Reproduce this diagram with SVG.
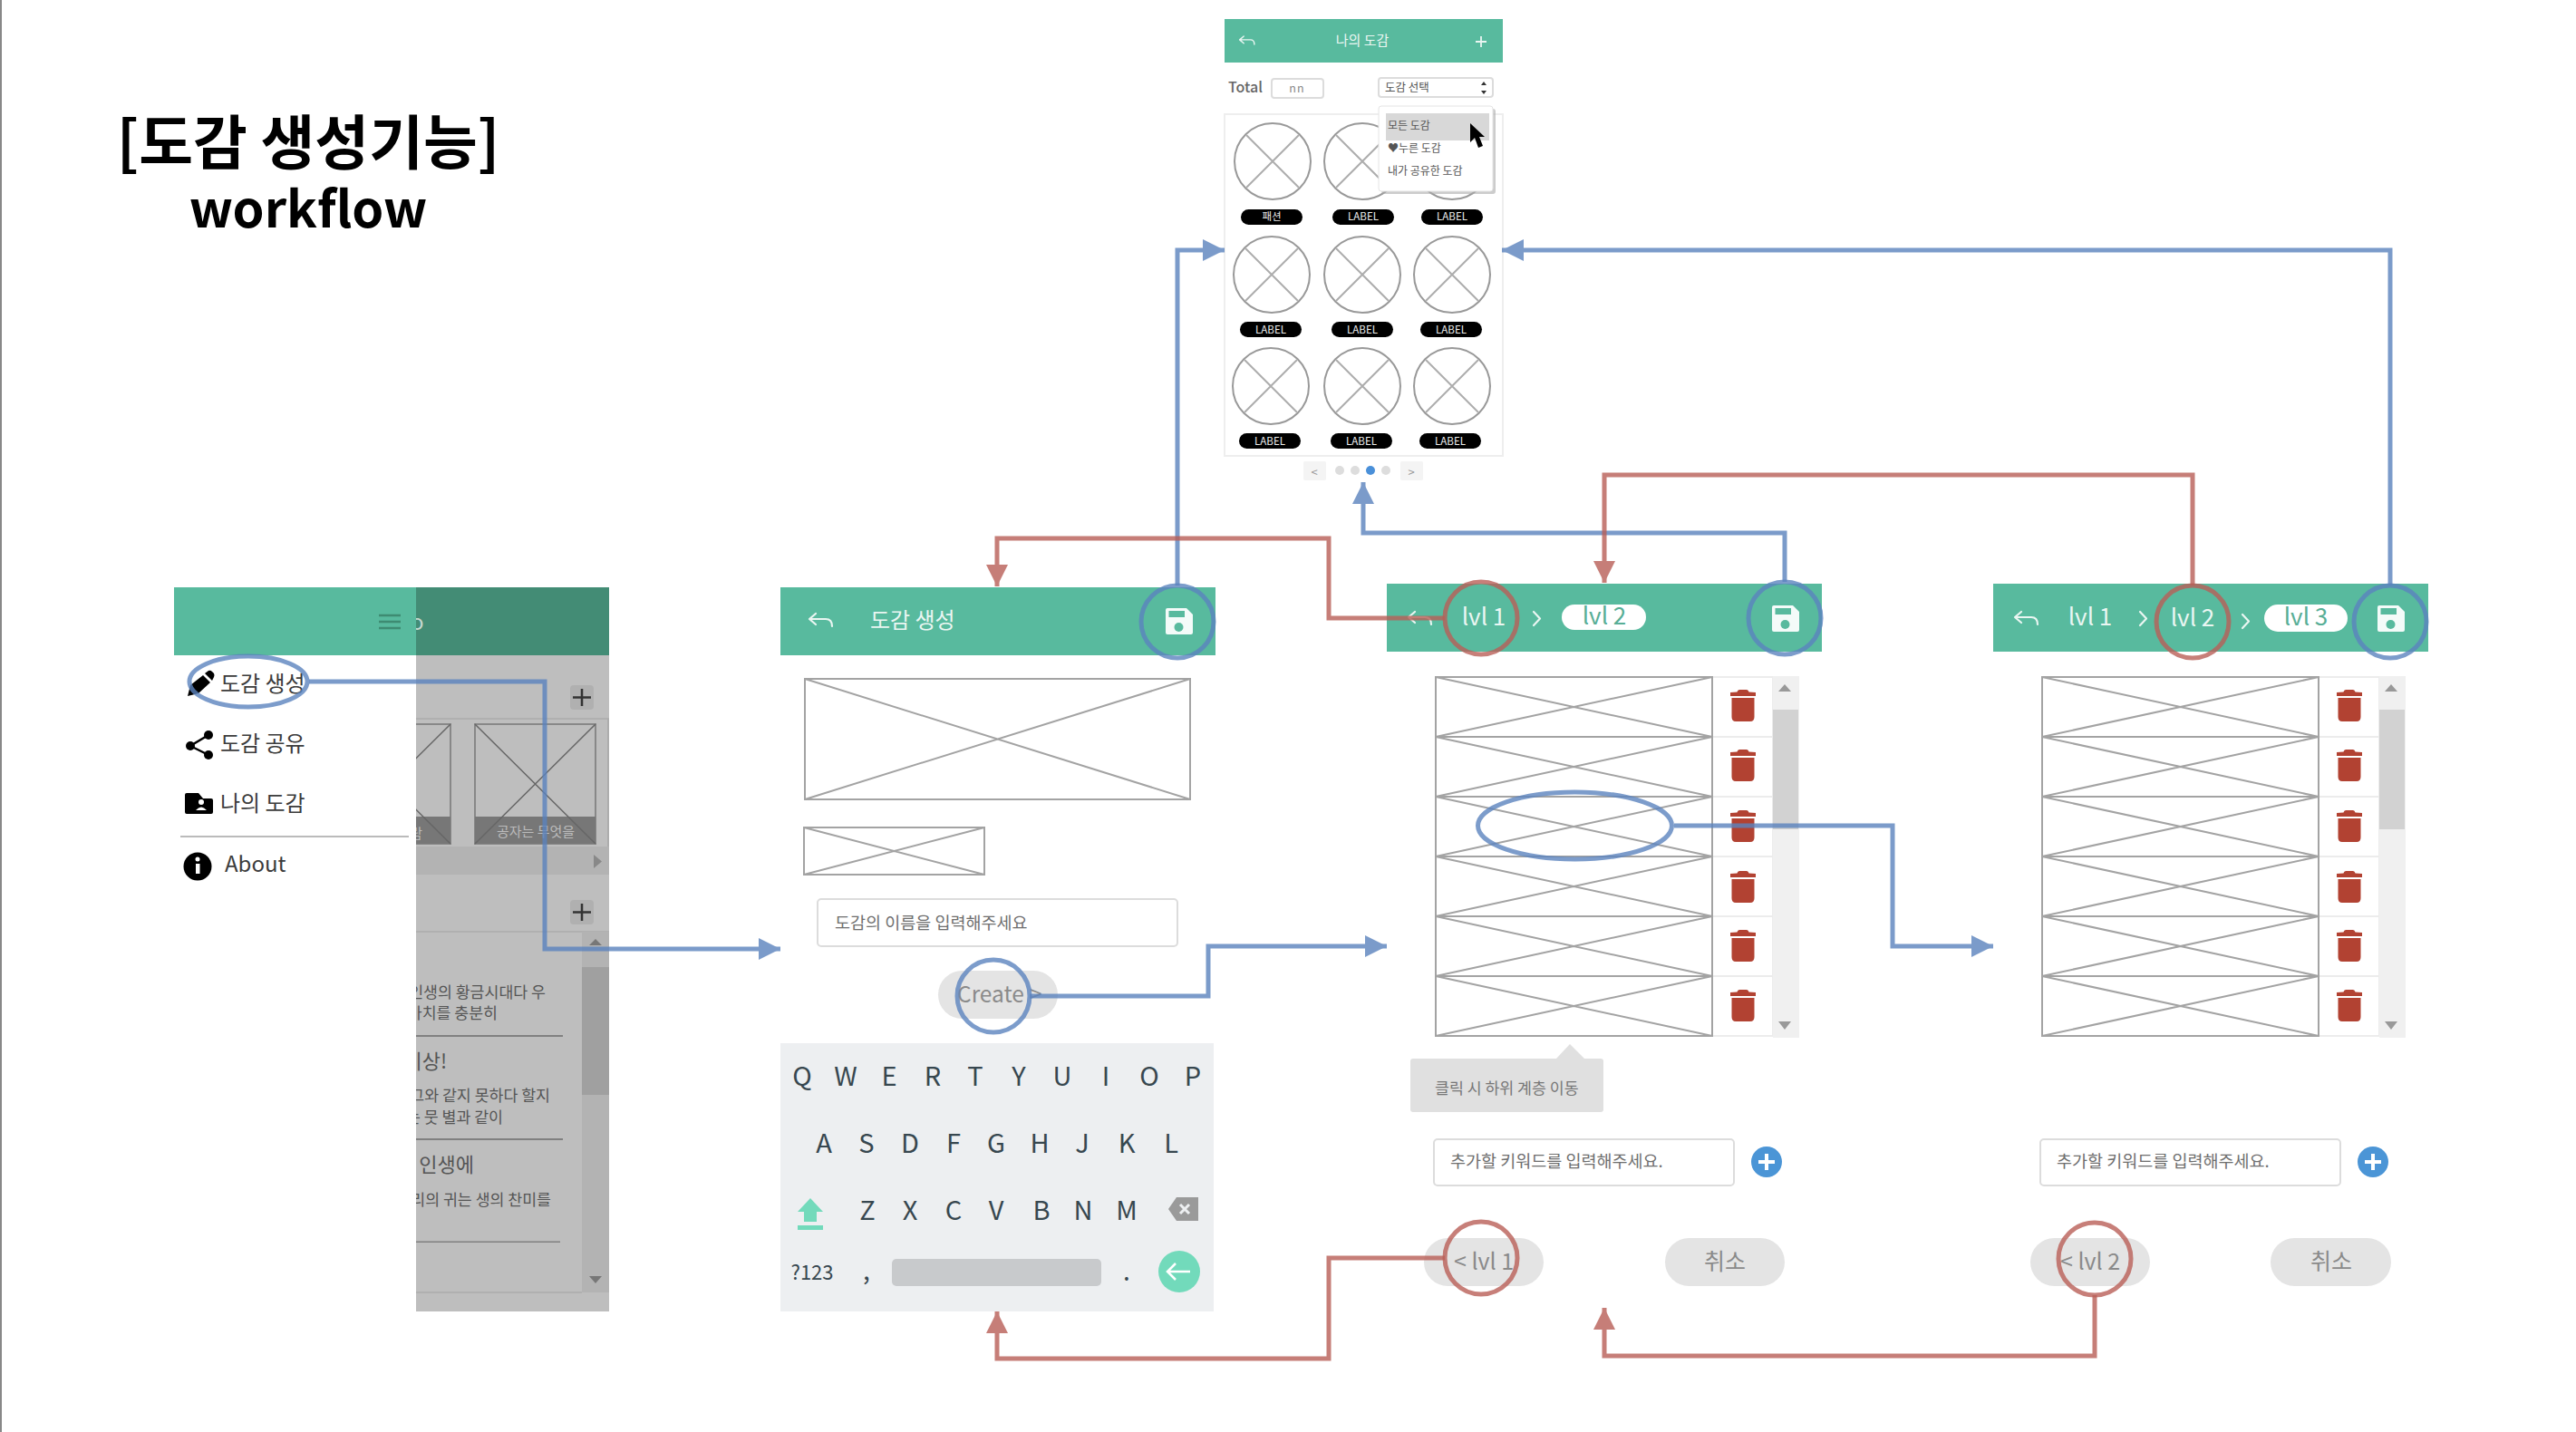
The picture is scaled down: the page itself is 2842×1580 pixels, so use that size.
<svg xmlns="http://www.w3.org/2000/svg" xmlns:xlink="http://www.w3.org/1999/xlink" width="2842" height="1580" viewBox="0 0 2842 1580">
<style>
text{font-family:"Noto Sans CJK KR","Noto Sans",sans-serif}
.hdr{fill:#58BA9E}
.wire{fill:#fff;stroke:#A3A3A3;stroke-width:2}
.x{stroke:#A3A3A3;stroke-width:2;fill:none}
.menu{font-size:24px;fill:#3c3c3c}
.white{fill:#EAF6F2}
.teal{fill:#58AE96}
.ph{font-size:18.5px;fill:#6f6f6f}
.in{fill:#fff;stroke:#dcdcdc;stroke-width:2}
.btn{fill:#E4E4E4}
.btxt{font-size:25px;fill:#8a8a8a;text-anchor:middle}
.lvl{font-size:26px;text-anchor:middle}
.kb{font-size:29px;fill:#37474F;text-anchor:middle}
.dim{font-size:17.3px;fill:#555;text-anchor:end}
.dimh{font-size:22px;fill:#555}
.lbl{font-size:11.5px;fill:#eee;text-anchor:middle}
.pill{fill:#000}
.dd{font-size:12px;fill:#555}
.cell{fill:#fff;stroke:#ececec;stroke-width:2}
.blue{fill:none;stroke:#5B83BE;stroke-width:5;opacity:.8}
.red{fill:none;stroke:#B95F57;stroke-width:5;opacity:.8}
.bk{fill:none;stroke:#EAF6F2;stroke-width:2.2;stroke-linecap:round;stroke-linejoin:round}
</style>
<defs>
<marker id="ab" markerUnits="userSpaceOnUse" viewBox="0 0 24 24" refX="24" refY="12" markerWidth="24" markerHeight="24" orient="auto"><path d="M0 0L24 12L0 24Z" fill="#5B83BE"/></marker>
<marker id="ar" markerUnits="userSpaceOnUse" viewBox="0 0 24 24" refX="24" refY="12" markerWidth="24" markerHeight="24" orient="auto"><path d="M0 0L24 12L0 24Z" fill="#B95F57"/></marker>
<clipPath id="ov"><rect x="459" y="640" width="213" height="810"/></clipPath>
<g id="back"><path class="bk" d="M8 0L1 6L8 12M1 6H19Q26 6 26 14"/></g>
<g id="save"><path fill="#F4FBF9" d="M2 0H23L30 7V27Q30 29 28 29H2Q0 29 0 27V2Q0 0 2 0Z"/><rect x="3.5" y="3" width="17.5" height="7" fill="#58BA9E"/><circle cx="14.5" cy="21" r="5" fill="#58BA9E"/></g>
<g id="trash"><path fill="#B24232" d="M10 0H18Q20 0 20.500 2.500L28 3V7H0V3L7.500 2.500Q8 0 10 0ZM1.500 9H26.500V30Q26.500 35 22 35H6Q1.500 35 1.500 30Z"/></g>
<g id="row"><rect class="wire" width="305" height="66"/><path class="x" d="M0 0L305 66M305 0L0 66"/></g>
<g id="disc"><circle r="42" fill="#fff" stroke="#999" stroke-width="2"/><path stroke="#ADADAD" stroke-width="2" d="M-29 -29L29 29M29 -29L-29 29"/></g>
<g id="list">
<rect x="305" width="67" height="396" fill="#fff"/>
<rect class="cell" x="305" y="0" width="67" height="66"/><rect class="cell" x="305" y="66" width="67" height="66"/><rect class="cell" x="305" y="132" width="67" height="66"/><rect class="cell" x="305" y="198" width="67" height="66"/><rect class="cell" x="305" y="264" width="67" height="66"/><rect class="cell" x="305" y="330" width="67" height="66"/>
<use xlink:href="#row" href="#row" y="0"/><use xlink:href="#row" href="#row" y="66"/><use xlink:href="#row" href="#row" y="132"/><use xlink:href="#row" href="#row" y="198"/><use xlink:href="#row" href="#row" y="264"/><use xlink:href="#row" href="#row" y="330"/>
<use xlink:href="#trash" href="#trash" x="325" y="14"/><use xlink:href="#trash" href="#trash" x="325" y="80"/><use xlink:href="#trash" href="#trash" x="325" y="147"/><use xlink:href="#trash" href="#trash" x="325" y="214"/><use xlink:href="#trash" href="#trash" x="325" y="279"/><use xlink:href="#trash" href="#trash" x="325" y="345"/>
<rect x="372" y="-1" width="29" height="399" fill="#F0F0F0"/><rect x="372" y="36" width="28" height="132" fill="#D2D2D2"/>
<path fill="#999" d="M378 16L385 8L392 16ZM378 380H392L385 389Z"/>
</g>
<g id="plusc"><circle r="17" fill="#4B95D6"/><path d="M-9 0H9M0 -9V9" stroke="#fff" stroke-width="4"/></g>
</defs>
<rect width="2842" height="1580" fill="#fff"/>
<rect width="2" height="1580" fill="#888"/>
<g id="title">
<text x="340" y="181" font-size="65" font-weight="700" fill="#000" text-anchor="middle">[도감 생성기능]</text>
<text x="340" y="251" font-size="56" font-weight="700" fill="#000" text-anchor="middle">workflow</text>
</g>
<g id="screen-my-collection">
<rect class="hdr" x="1351" y="21" width="307" height="48"/>
<use xlink:href="#back" href="#back" transform="translate(1367 40) scale(.65)"/>
<text class="white" x="1503" y="50" font-size="15" text-anchor="middle">나의 도감</text>
<path d="M1634 40V52M1628 46H1640" stroke="#EAF6F2" stroke-width="1.800"/>
<text x="1355" y="102" font-size="16" font-weight="500" fill="#666">Total</text>
<rect class="in" x="1403" y="87" width="57" height="21" rx="3"/>
<text x="1431" y="102" font-size="12.500" fill="#888" text-anchor="middle" letter-spacing="1">nn</text>
<rect class="in" x="1521" y="86" width="126" height="21" rx="3"/>
<text x="1528" y="101" font-size="12.500" fill="#555">도감 선택</text>
<path fill="#333" d="M1634 94L1637 90L1640 94ZM1634 100H1640L1637 104Z"/>
<rect x="1351" y="126" width="307" height="377" fill="#fff" stroke="#eee" stroke-width="2"/>
<use xlink:href="#disc" href="#disc" x="1404" y="178"/><use xlink:href="#disc" href="#disc" x="1503" y="178"/><use xlink:href="#disc" href="#disc" x="1602" y="178"/>
<use xlink:href="#disc" href="#disc" x="1403" y="303"/><use xlink:href="#disc" href="#disc" x="1503" y="303"/><use xlink:href="#disc" href="#disc" x="1602" y="303"/>
<use xlink:href="#disc" href="#disc" x="1402" y="426"/><use xlink:href="#disc" href="#disc" x="1503" y="426"/><use xlink:href="#disc" href="#disc" x="1602" y="426"/>
<rect class="pill" x="1369" y="231" width="68" height="17" rx="8.500"/><rect class="pill" x="1470" y="231" width="68" height="17" rx="8.500"/><rect class="pill" x="1568" y="231" width="68" height="17" rx="8.500"/>
<rect class="pill" x="1368" y="355" width="68" height="17" rx="8.500"/><rect class="pill" x="1469" y="355" width="68" height="17" rx="8.500"/><rect class="pill" x="1567" y="355" width="68" height="17" rx="8.500"/>
<rect class="pill" x="1367" y="478" width="68" height="17" rx="8.500"/><rect class="pill" x="1468" y="478" width="68" height="17" rx="8.500"/><rect class="pill" x="1566" y="478" width="68" height="17" rx="8.500"/>
<text class="lbl" x="1403" y="243">패션</text><text class="lbl" x="1504" y="243">LABEL</text><text class="lbl" x="1602" y="243">LABEL</text>
<text class="lbl" x="1402" y="368">LABEL</text><text class="lbl" x="1503" y="368">LABEL</text><text class="lbl" x="1601" y="368">LABEL</text>
<text class="lbl" x="1401" y="491">LABEL</text><text class="lbl" x="1502" y="491">LABEL</text><text class="lbl" x="1600" y="491">LABEL</text>
<rect x="1524" y="120" width="126" height="94" rx="3" fill="#aaa" opacity=".6"/>
<rect x="1521" y="117" width="126" height="94" rx="3" fill="#fff" stroke="#e4e4e4"/>
<rect x="1529" y="125" width="114" height="30" fill="#D8D8D8"/>
<text class="dd" x="1531" y="143">모든 도감</text><text class="dd" x="1531" y="168">♥누른 도감</text><text class="dd" x="1531" y="193">내가 공유한 도감</text>
<path fill="#000" d="M1622 136V157L1627 152L1631 163L1636 161L1632 151H1638Z"/>
<rect x="1438" y="509" width="25" height="21" rx="2" fill="#F4F4F4"/><rect x="1545" y="509" width="25" height="21" rx="2" fill="#F4F4F4"/>
<text x="1450" y="526" font-size="13" fill="#999" text-anchor="middle">&lt;</text><text x="1557" y="526" font-size="13" fill="#999" text-anchor="middle">&gt;</text>
<circle cx="1478" cy="519" r="5" fill="#DDD"/><circle cx="1495" cy="519" r="5" fill="#DDD"/><circle cx="1512" cy="519" r="5" fill="#4A90D9"/><circle cx="1529" cy="519" r="5" fill="#DDD"/>
</g>
<g id="screen-menu">
<rect x="192" y="648" width="267" height="75" class="hdr"/>
<rect x="459" y="648" width="213" height="75" fill="#438C75"/>
<rect x="459" y="723" width="213" height="724" fill="#BEBEBE"/>
<text x="453" y="695" font-size="24" fill="#c6d8d1" clip-path="url(#ov)">o</text>
<path d="M418 679H442M418 686H442M418 693H442" stroke="#3E8B72" stroke-width="2.500"/>
<path d="M207 768L210 756L224 745L232 753L219 765Z" fill="#000"/><path d="M226 743L230 740Q232 739 234 741L236 743Q237 745 236 747L234 751Z" fill="#000"/>
<text class="menu" x="243" y="763">도감 생성</text>
<g fill="#000"><circle cx="230" cy="811" r="5"/><circle cx="210" cy="823" r="5"/><circle cx="230" cy="833" r="5"/></g><path d="M230 811L210 823L230 833" fill="none" stroke="#000" stroke-width="2.500"/>
<text class="menu" x="243" y="829">도감 공유</text>
<path fill="#000" d="M206 875H219L224 881H233Q235 881 235 883V896Q235 898 233 898H206Q204 898 204 896V877Q204 875 206 875Z"/><circle cx="222" cy="885" r="3" fill="#fff"/><path d="M216 894Q222 887 228 894Z" fill="#fff"/>
<text class="menu" x="243" y="895">나의 도감</text>
<rect x="199" y="922" width="252" height="2" fill="#BBB"/>
<circle cx="218" cy="956" r="15.500" fill="#000"/><rect x="216" y="953" width="4.500" height="11" fill="#fff"/><circle cx="218" cy="948" r="2.500" fill="#fff"/>
<text class="menu" x="248" y="962">About</text>
<rect x="629" y="756" width="26" height="27" rx="4" fill="#B0B0B0"/><path d="M642 760V779M632 769.500H652" stroke="#333" stroke-width="2.500"/>
<rect x="459" y="792" width="213" height="2" fill="#B0B0B0"/><rect x="670" y="793" width="2" height="142" fill="#ADADAD"/>
<g clip-path="url(#ov)">
<rect x="364" y="799" width="133" height="132" fill="none" stroke="#888" stroke-width="2"/>
<rect x="364" y="901" width="133" height="30" fill="#777"/>
<path d="M364 799L497 931M497 799L364 931" stroke="#666" stroke-width="1.500"/>
<text x="466" y="925" font-size="15" fill="#bbb" text-anchor="end">람</text>
</g>
<rect x="524" y="799" width="133" height="132" fill="none" stroke="#888" stroke-width="2"/>
<rect x="524" y="901" width="133" height="30" fill="#777"/>
<path d="M524 799L657 931M657 799L524 931" stroke="#666" stroke-width="1.500"/>
<text x="591" y="923" font-size="15" fill="#bbb" text-anchor="middle">공자는 무엇을</text>
<rect x="459" y="934" width="213" height="31" fill="#B3B3B3"/><path d="M655 943L664 950.500L655 958Z" fill="#888"/>
<rect x="629" y="993" width="26" height="27" rx="4" fill="#B0B0B0"/><path d="M642 997V1016M632 1006.500H652" stroke="#333" stroke-width="2.500"/>
<rect x="459" y="1027" width="213" height="2" fill="#B0B0B0"/>
<rect x="642" y="1028" width="30" height="398" fill="#B3B3B3"/><rect x="642" y="1067" width="30" height="141" fill="#A0A0A0"/>
<path d="M650 1043L657 1036L664 1043ZM650 1408H664L657 1416Z" fill="#777"/>
<rect x="459" y="1425" width="183" height="2" fill="#B0B0B0"/>
<g clip-path="url(#ov)">
<text class="dim" x="602" y="1101">인생의 황금시대다 우</text>
<text class="dim" x="549" y="1124">가치를 충분히</text>
<text class="dimh" x="493" y="1179" text-anchor="end">이상!</text>
<text class="dim" x="607" y="1215">그와 같지 못하다 할지</text>
<text class="dim" x="555" y="1239">는 뭇 별과 같이</text>
<text class="dimh" x="523" y="1293" text-anchor="end">인생에</text>
<text class="dim" x="608" y="1330">리의 귀는 생의 찬미를</text>
</g>
<rect x="459" y="1142" width="162" height="2" fill="#808080"/><rect x="459" y="1256" width="162" height="2" fill="#808080"/><rect x="459" y="1369.500" width="159" height="1.500" fill="#808080"/>
</g>
<g id="screen-create">
<rect class="hdr" x="861" y="648" width="480" height="75"/>
<use xlink:href="#back" href="#back" x="892" y="677"/>
<text class="white" x="960" y="693" font-size="24">도감 생성</text>
<use xlink:href="#save" href="#save" x="1286" y="671"/>
<rect class="wire" x="888" y="749" width="425" height="133"/><path class="x" d="M888 749L1313 882M1313 749L888 882"/>
<rect class="wire" x="887" y="913" width="199" height="52"/><path class="x" d="M887 913L1086 965M1086 913L887 965"/>
<rect class="in" x="902" y="992" width="397" height="52" rx="4"/>
<text class="ph" x="921" y="1025">도감의 이름을 입력해주세요</text>
<rect class="btn" x="1035" y="1071" width="132" height="53" rx="26.500"/>
<text x="1056" y="1106" font-size="24.500" fill="#8a8a8a">Create <tspan x="1136">&gt;</tspan></text>
<rect x="861" y="1151" width="478" height="296" fill="#EDEFF1"/>
<g class="kb">
<text class="kb" x="885" y="1198">Q</text><text class="kb" x="933" y="1198">W</text><text class="kb" x="981" y="1198">E</text><text class="kb" x="1029" y="1198">R</text><text class="kb" x="1076" y="1198">T</text><text class="kb" x="1124" y="1198">Y</text><text class="kb" x="1172" y="1198">U</text><text class="kb" x="1220" y="1198">I</text><text class="kb" x="1268" y="1198">O</text><text class="kb" x="1316" y="1198">P</text>
<text class="kb" x="909" y="1272">A</text><text class="kb" x="956" y="1272">S</text><text class="kb" x="1004" y="1272">D</text><text class="kb" x="1052" y="1272">F</text><text class="kb" x="1099" y="1272">G</text><text class="kb" x="1147" y="1272">H</text><text class="kb" x="1194" y="1272">J</text><text class="kb" x="1243" y="1272">K</text><text class="kb" x="1292" y="1272">L</text>
<text class="kb" x="957" y="1346">Z</text><text class="kb" x="1004" y="1346">X</text><text class="kb" x="1052" y="1346">C</text><text class="kb" x="1099" y="1346">V</text><text class="kb" x="1149" y="1346">B</text><text class="kb" x="1195" y="1346">N</text><text class="kb" x="1243" y="1346">M</text>
</g>
<path fill="#72DABB" d="M894 1322L908 1337H901V1348H887V1337H880ZM880 1352H908V1357H880Z"/>
<path fill="#9A9A9A" d="M1298 1321H1322V1347H1298L1289 1334Z"/><path d="M1302 1329L1312 1339M1312 1329L1302 1339" stroke="#EDEFF1" stroke-width="3"/>
<text x="896" y="1412" font-size="22" fill="#37474F" text-anchor="middle">?123</text>
<text x="956" y="1412" font-size="28" fill="#37474F" text-anchor="middle">,</text>
<text x="1243" y="1413" font-size="28" fill="#37474F" text-anchor="middle">.</text>
<rect x="984" y="1389" width="231" height="30" rx="5" fill="#C8CACC"/>
<circle cx="1301" cy="1403" r="23" fill="#72DABB"/><path d="M1288 1403H1313M1297 1394L1288 1403L1297 1412" fill="none" stroke="#fff" stroke-width="2.500"/>
</g>
<g id="screen-lvl2">
<rect class="hdr" x="1530" y="644" width="480" height="75"/>
<use xlink:href="#back" href="#back" x="1553" y="675"/>
<text class="white lvl" x="1637" y="690">lvl 1</text>
<path d="M1692 675L1699 682.500L1692 690" class="bk"/>
<rect x="1723" y="667" width="93" height="28" rx="14" fill="#fff"/>
<text class="teal lvl" x="1770" y="689">lvl 2</text>
<use xlink:href="#save" href="#save" x="1955" y="668"/>
<use xlink:href="#list" href="#list" x="1584" y="747"/>
<path fill="#E0E0E0" d="M1559 1168H1717L1732 1152L1748 1168H1766Q1769 1168 1769 1171V1224Q1769 1227 1766 1227H1559Q1556 1227 1556 1224V1171Q1556 1168 1559 1168Z"/>
<text x="1583" y="1207" font-size="17.300" fill="#777">클릭 시 하위 계층 이동</text>
<rect class="in" x="1582" y="1257" width="331" height="51" rx="4"/>
<text class="ph" x="1600" y="1288">추가할 키워드를 입력해주세요.</text>
<use xlink:href="#plusc" href="#plusc" x="1949" y="1282"/>
<rect class="btn" x="1571" y="1366" width="132" height="53" rx="26.500"/>
<text class="btxt" x="1637" y="1401">&lt; lvl 1</text>
<rect class="btn" x="1837" y="1366" width="132" height="53" rx="26.500"/>
<text class="btxt" x="1903" y="1401">취소</text>
</g>
<g id="screen-lvl3">
<rect class="hdr" x="2199" y="644" width="480" height="75"/>
<use xlink:href="#back" href="#back" x="2222" y="675"/>
<text class="white lvl" x="2306" y="690">lvl 1</text>
<path d="M2361 675L2368 682.500L2361 690" class="bk"/>
<text class="white lvl" x="2419" y="691">lvl 2</text>
<path d="M2474 678L2481 685.500L2474 693" class="bk"/>
<rect x="2498" y="667" width="92" height="30" rx="15" fill="#fff"/>
<text class="teal lvl" x="2544" y="690">lvl 3</text>
<use xlink:href="#save" href="#save" x="2623" y="668"/>
<use xlink:href="#list" href="#list" x="2253" y="747"/>
<rect class="in" x="2251" y="1257" width="331" height="51" rx="4"/>
<text class="ph" x="2269" y="1288">추가할 키워드를 입력해주세요.</text>
<use xlink:href="#plusc" href="#plusc" x="2618" y="1282"/>
<rect class="btn" x="2240" y="1366" width="132" height="53" rx="26.500"/>
<text class="btxt" x="2306" y="1401">&lt; lvl 2</text>
<rect class="btn" x="2505" y="1366" width="133" height="53" rx="26.500"/>
<text class="btxt" x="2572" y="1401">취소</text>
</g>
<g id="connectors">
<path class="blue" marker-end="url(#ab)" d="M341 752H601V1047H861"/>
<path class="blue" marker-end="url(#ab)" d="M1136 1099H1333V1044H1530"/>
<path class="blue" marker-end="url(#ab)" d="M1847 911H2088V1044H2199"/>
<path class="blue" marker-end="url(#ab)" d="M1299 646V276H1351"/>
<path class="blue" marker-end="url(#ab)" d="M2637 646V276H1657"/>
<path class="blue" marker-end="url(#ab)" d="M1969 642V588H1504V532"/>
<path class="red" marker-end="url(#ar)" d="M1594 682H1466V594H1100V647"/>
<path class="red" marker-end="url(#ar)" d="M2419 646V524H1770V643"/>
<path class="red" marker-end="url(#ar)" d="M1594 1388H1466V1499H1100V1447"/>
<path class="red" marker-end="url(#ar)" d="M2311 1429V1496H1770V1443"/>
<ellipse class="blue" cx="274" cy="752" rx="65" ry="28"/>
<circle class="blue" cx="1299" cy="686" r="40"/>
<circle class="blue" cx="1096" cy="1099" r="40"/>
<ellipse class="blue" cx="1737.500" cy="911" rx="107" ry="37"/>
<circle class="blue" cx="1969" cy="682" r="40"/>
<circle class="blue" cx="2637" cy="686" r="40"/>
<circle class="red" cx="1634" cy="682" r="40"/>
<circle class="red" cx="2419" cy="686" r="40"/>
<circle class="red" cx="1634" cy="1388" r="40"/>
<circle class="red" cx="2311" cy="1389" r="40"/>
</g>
</svg>
